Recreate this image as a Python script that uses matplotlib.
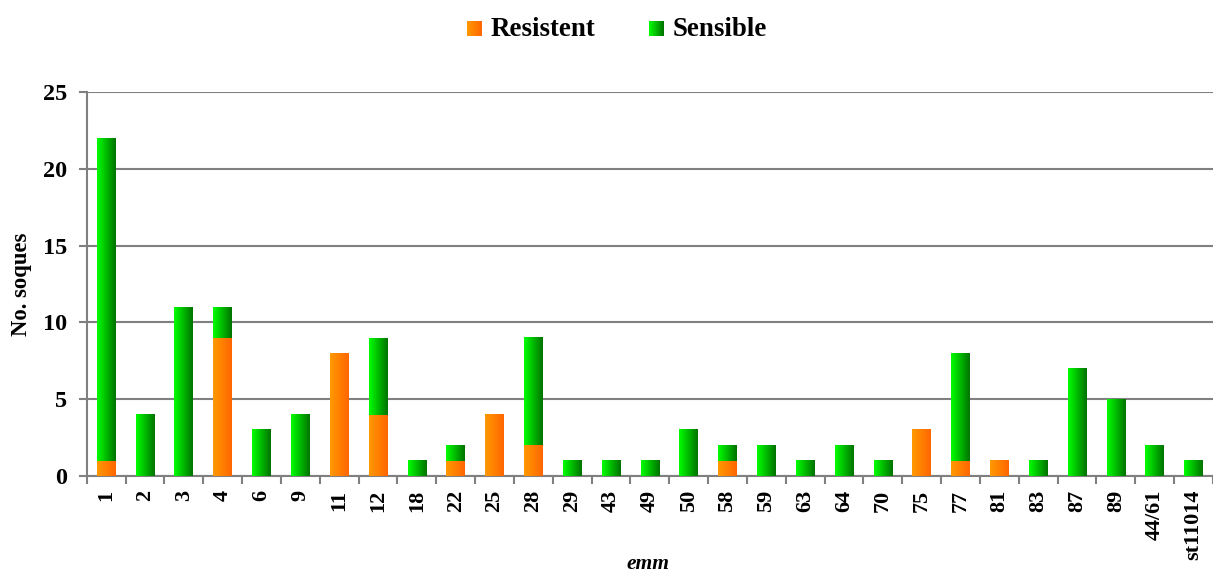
import matplotlib
matplotlib.use("Agg")
import matplotlib.pyplot as plt
import numpy as np

# emm types and isolate counts
emm_types = ['1', '2', '3', '4', '6', '9', '11', '12', '18', '22', '25', '28', '29', '43',
             '49', '50', '58', '59', '63', '64', '70', '75', '77', '81', '83', '87', '89',
             '44/61', 'st11014']
resistent = [1, 0, 0, 9, 0, 0, 8, 4, 0, 1, 4, 2, 0, 0, 0, 0, 1, 0, 0, 0, 0, 3, 1, 1, 0, 0, 0, 0, 0]
sensible = [21, 4, 11, 2, 3, 4, 0, 5, 1, 1, 0, 7, 1, 1, 1, 3, 1, 2, 1, 2, 1, 0, 7, 0, 1, 7, 5, 2, 1]

plt.rcParams['font.family'] = ['Liberation Serif', 'DejaVu Serif']
plt.rcParams['font.weight'] = 'bold'

orange_grad = [(1.0, 0.60, 0.0), (1.0, 0.40, 0.0)]
green_grad = [(0.0, 1.0, 0.0), (0.0, 0.45, 0.0)]
grid_col = '#808080'


def gradient_img(c0, c1, n=64):
    t = np.linspace(0, 1, n)
    c0, c1 = np.array(c0), np.array(c1)
    row = c0[None, :] * (1 - t[:, None]) + c1[None, :] * t[:, None]
    return row[None, :, :]


fig = plt.figure(figsize=(12.13, 5.74), dpi=100)
ax = fig.add_axes([86.7 / 1213, 98 / 574, (1213 - 86.7) / 1213, 384 / 574])

x = np.arange(len(emm_types))
width = 0.48
bars_r = ax.bar(x, resistent, width, color='none', edgecolor='none')
bars_s = ax.bar(x, sensible, width, bottom=resistent, color='none', edgecolor='none')

# paint each bar segment with a left-to-right colour gradient
for bars, grad in ((bars_r, orange_grad), (bars_s, green_grad)):
    img = gradient_img(*grad)
    for p in bars:
        h = p.get_height()
        if h <= 0:
            continue
        x0, y0, w = p.get_x(), p.get_y(), p.get_width()
        ax.imshow(img, extent=[x0, x0 + w, y0, y0 + h], aspect='auto',
                  interpolation='bilinear', zorder=3)

ax.set_xlim(-0.5, len(emm_types) - 0.5)
ax.set_ylim(0, 25)
ax.set_yticks(np.arange(0, 26, 5))
ax.yaxis.grid(True, color=grid_col, linewidth=1.5)
ax.set_axisbelow(True)

for side in ('top', 'right'):
    ax.spines[side].set_visible(False)
for side in ('left', 'bottom'):
    ax.spines[side].set_color(grid_col)
    ax.spines[side].set_linewidth(1.5)

ax.set_xticks(x)
ax.set_xticklabels(emm_types, rotation=90, fontsize=16, fontweight='bold')
ax.set_xticks(np.arange(-0.5, len(emm_types), 1), minor=True)
ax.tick_params(axis='x', which='major', length=0, pad=10)
ax.tick_params(axis='x', which='minor', length=6, width=1.5, color=grid_col)
ax.tick_params(axis='y', length=6, width=1.5, color=grid_col, pad=8, labelsize=17.5)

ax.set_ylabel('No. soques', fontsize=16.3, fontweight='bold')
ax.yaxis.set_label_coords(-0.0486, 0.5)
fig.text(648 / 1213, 1 - 564 / 574, 'emm', fontsize=15.5, fontweight='bold',
         style='italic', ha='center', va='center')

# legend: gradient swatches and labels
for (px, label, grad, tx) in ((467, 'Resistent', orange_grad, 491),
                               (649, 'Sensible', green_grad, 673)):
    sw = fig.add_axes([px / 1213, 1 - 36 / 574, 15 / 1213, 15 / 574])
    sw.imshow(gradient_img(*grad), aspect='auto', interpolation='bilinear')
    sw.axis('off')
    fig.text(tx / 1213, 1 - 29 / 574, label, fontsize=19.4, fontweight='bold',
             va='center', ha='left')

fig.savefig('out.png', dpi=100)
